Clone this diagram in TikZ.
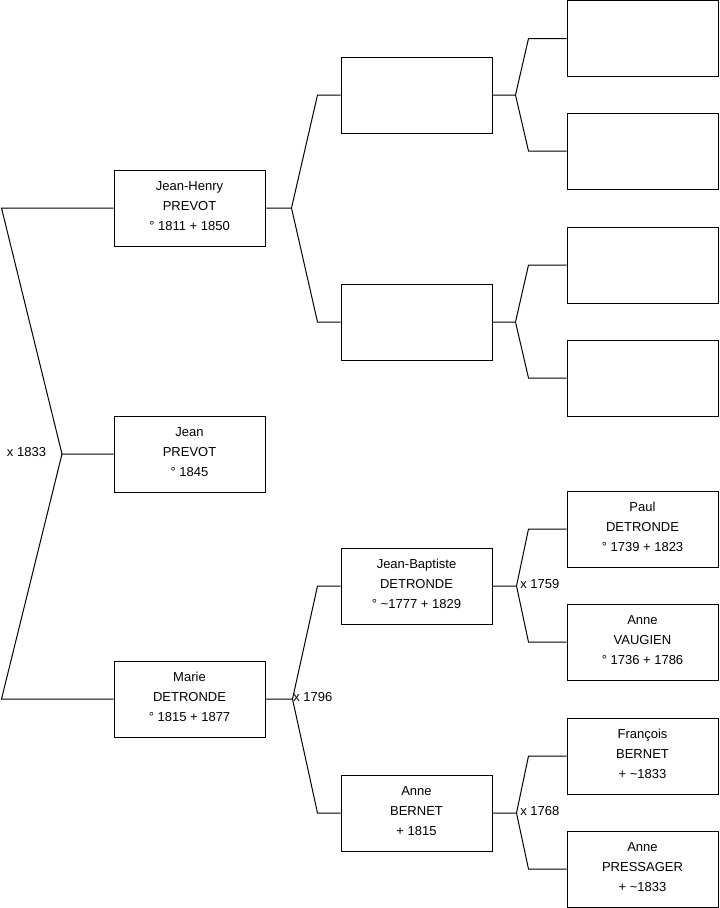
\documentclass[tikz,border=0pt]{standalone}
\usepackage{fontspec}
\setmainfont{Liberation Sans}
\usetikzlibrary{calc}
\begin{document}
\begin{tikzpicture}[x=0.75pt,y=-0.75pt,
 box/.style={draw=black, line width=0.75pt, minimum width=113.25pt, minimum height=57pt, inner sep=0pt, align=center, text depth=3pt, font=\fontsize{9.75pt}{15pt}\selectfont},
 conn/.style={line width=0.75pt, line join=miter},
 lbl/.style={font=\fontsize{9.75pt}{11pt}\selectfont, inner sep=0pt}]
\useasboundingbox (0,0) rectangle (719,908);
% generation 1
\node[box] (jh) at (189.5,208) {Jean-Henry\\PREVOT\\° 1811 + 1850};
\node[box] (j)  at (189.5,454) {Jean\\PREVOT\\° 1845};
\node[box] (m)  at (189.5,699) {Marie\\DETRONDE\\° 1815 + 1877};
% generation 2
\node[box] (f)  at (416.5,95) {};
\node[box] (mo) at (416.5,322) {};
\node[box] (jb) at (416.5,586) {Jean-Baptiste\\DETRONDE\\° \textasciitilde1777 + 1829};
\node[box] (ab) at (416.5,813) {Anne\\BERNET\\+ 1815};
% generation 3
\node[box] (g1) at (642.5,38.5) {};
\node[box] (g2) at (642.5,151) {};
\node[box] (g3) at (642.5,265) {};
\node[box] (g4) at (642.5,378) {};
\node[box] (pd) at (642.5,529) {Paul\\DETRONDE\\° 1739 + 1823};
\node[box] (av) at (642.5,642) {Anne\\VAUGIEN\\° 1736 + 1786};
\node[box] (fb) at (642.5,756) {François\\BERNET\\+ \textasciitilde1833};
\node[box] (ap) at (642.5,869) {Anne\\PRESSAGER\\+ \textasciitilde1833};
% root fork
\coordinate (v0) at (62,454);
\coordinate (lx) at (1.5,0);
\draw[conn] (j.west) -- (v0) -- (lx |- jh.west) -- (jh.west);
\draw[conn] (v0) -- (lx |- m.west) -- (m.west);
\node[lbl] (l0) at (26.5,452) {x 1833};
% Jean-Henry fork
\coordinate (v1) at ($(jh.east)+(26,0)$);
\draw[conn] (jh.east) -- (v1) -- ($(f.west)+(-23,0)$) -- (f.west);
\draw[conn] (v1) -- ($(mo.west)+(-23,0)$) -- (mo.west);
% Marie fork
\coordinate (v2) at ($(m.east)+(27,0)$);
\draw[conn] (m.east) -- (v2) -- ($(jb.west)+(-23,0)$) -- (jb.west);
\draw[conn] (v2) -- ($(ab.west)+(-23,0)$) -- (ab.west);
\node[lbl, anchor=west] (l1) at (293,697) {x 1796};
% generation 2 forks
\coordinate (v3) at ($(f.east)+(23,0)$);
\draw[conn] (f.east) -- (v3) -- ($(g1.west)+(-38,0)$) -- (g1.west);
\draw[conn] (v3) -- ($(g2.west)+(-38,0)$) -- (g2.west);
\coordinate (v4) at ($(mo.east)+(23,0)$);
\draw[conn] (mo.east) -- (v4) -- ($(g3.west)+(-38,0)$) -- (g3.west);
\draw[conn] (v4) -- ($(g4.west)+(-38,0)$) -- (g4.west);
\coordinate (v5) at ($(jb.east)+(24,0)$);
\draw[conn] (jb.east) -- (v5) -- ($(pd.west)+(-38,0)$) -- (pd.west);
\draw[conn] (v5) -- ($(av.west)+(-38,0)$) -- (av.west);
\node[lbl, anchor=west] (l2) at (520,584) {x 1759};
\coordinate (v6) at ($(ab.east)+(24,0)$);
\draw[conn] (ab.east) -- (v6) -- ($(fb.west)+(-38,0)$) -- (fb.west);
\draw[conn] (v6) -- ($(ap.west)+(-38,0)$) -- (ap.west);
\node[lbl, anchor=west] (l3) at (520,811) {x 1768};
\end{tikzpicture}
\end{document}
